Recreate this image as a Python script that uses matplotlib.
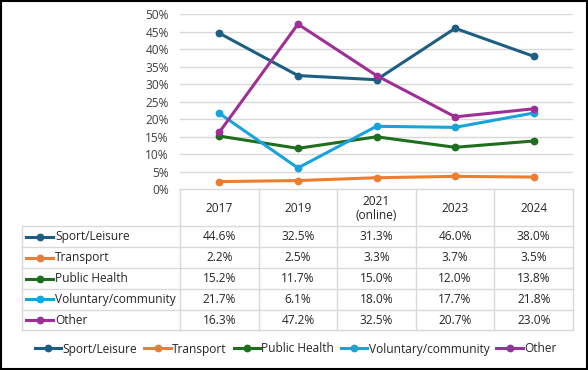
import matplotlib
matplotlib.use("Agg")
import matplotlib.pyplot as plt
from matplotlib.lines import Line2D
from matplotlib.patches import Rectangle

categories = ["2017", "2019", "2021\n(online)", "2023", "2024"]
series_names = ["Sport/Leisure", "Transport", "Public Health", "Voluntary/community", "Other"]
sport = [44.6, 32.5, 31.3, 46.0, 38.0]
transport = [2.2, 2.5, 3.3, 3.7, 3.5]
public_health = [15.2, 11.7, 15.0, 12.0, 13.8]
voluntary = [21.7, 6.1, 18.0, 17.7, 21.8]
other = [16.3, 47.2, 32.5, 20.7, 23.0]
yticks = [0, 5, 10, 15, 20, 25, 30, 35, 40, 45, 50]
colors = ["#1C5F82", "#ED7D31", "#1E6E1E", "#18A3DB", "#9E2F97"]

series = [sport, transport, public_health, voluntary, other]

plt.rcParams['font.family'] = ['Open Sans', 'DejaVu Sans']
FS = 8.6
LW = 2.2
MS = 4.6
W, H = 588, 370
fig = plt.figure(figsize=(W / 100, H / 100), dpi=100)

# pixel geometry
x0, x1 = 180, 573
ytop, ybot = 14.3, 189.3

def fx(px):
    return px / W

def fy(py):
    return 1 - py / H

ax = fig.add_axes([fx(x0), fy(ybot), (x1 - x0) / W, (ybot - ytop) / H])
n = len(categories)
xs = list(range(n))
ax.set_xlim(-0.5, n - 0.5)
ax.set_ylim(0, 50)
for v in yticks[1:]:
    ax.axhline(v, color="#D9D9D9", lw=1.0, zorder=0)
for s, c in zip(series, colors):
    ax.plot(xs, s, color=c, lw=LW, marker="o", ms=MS, zorder=3, solid_capstyle="round")
ax.set_yticks(yticks)
ax.set_yticklabels([f"{v}%" for v in yticks], fontsize=FS, color="#404040")
ax.tick_params(axis="y", length=0, pad=8)
ax.set_xticks([])
for sp in ax.spines.values():
    sp.set_visible(False)

# table overlay
tab = fig.add_axes([0, 0, 1, 1], facecolor="none")
tab.set_xlim(0, W)
tab.set_ylim(H, 0)
tab.axis("off")

col_w = (x1 - x0) / n
col_edges = [x0 + i * col_w for i in range(n + 1)]
row_edges = [189.3, 226, 247, 268.3, 289, 309.7, 330.3]
lx = 22.3
gc = "#D9D9D9"
tab.plot([x0, x1], [row_edges[0], row_edges[0]], color=gc, lw=1)
for r in row_edges[1:]:
    tab.plot([lx, x1], [r, r], color=gc, lw=1)
for cx in col_edges:
    tab.plot([cx, cx], [row_edges[0], row_edges[-1]], color=gc, lw=1)
tab.plot([lx, lx], [row_edges[1], row_edges[-1]], color=gc, lw=1)

tc = "#262626"
for i, cat in enumerate(categories):
    cx = (col_edges[i] + col_edges[i + 1]) / 2
    tab.text(cx, (row_edges[0] + row_edges[1]) / 2 + 0.5, cat, ha="center", va="center",
             fontsize=FS, color=tc, linespacing=1.1)
for j, (name, s, c) in enumerate(zip(series_names, series, colors)):
    cy = (row_edges[j + 1] + row_edges[j + 2]) / 2
    tab.add_line(Line2D([26, 53], [cy, cy], color=c, lw=LW))
    tab.add_line(Line2D([40], [cy], color=c, marker="o", ms=MS))
    tab.text(55, cy, name, ha="left", va="center", fontsize=FS, color=tc)
    for i, v in enumerate(s):
        cx = (col_edges[i] + col_edges[i + 1]) / 2
        tab.text(cx, cy, f"{v:.1f}%", ha="center", va="center", fontsize=FS, color=tc)

# legend at bottom
handles = [Line2D([], [], color=c, lw=LW, marker="o", ms=MS) for c in colors]
fig.legend(handles, series_names, loc="center", bbox_to_anchor=(0.503, fy(349)),
           ncol=5, frameon=False, fontsize=FS, handlelength=2.2, handletextpad=0.1,
           columnspacing=0.6, labelcolor=tc)

# outer border
tab.add_patch(Rectangle((0.5, 0.5), W - 1.5, H - 1.5, fill=False, ec="black", lw=1.5))

fig.savefig("out.png", dpi=100)
